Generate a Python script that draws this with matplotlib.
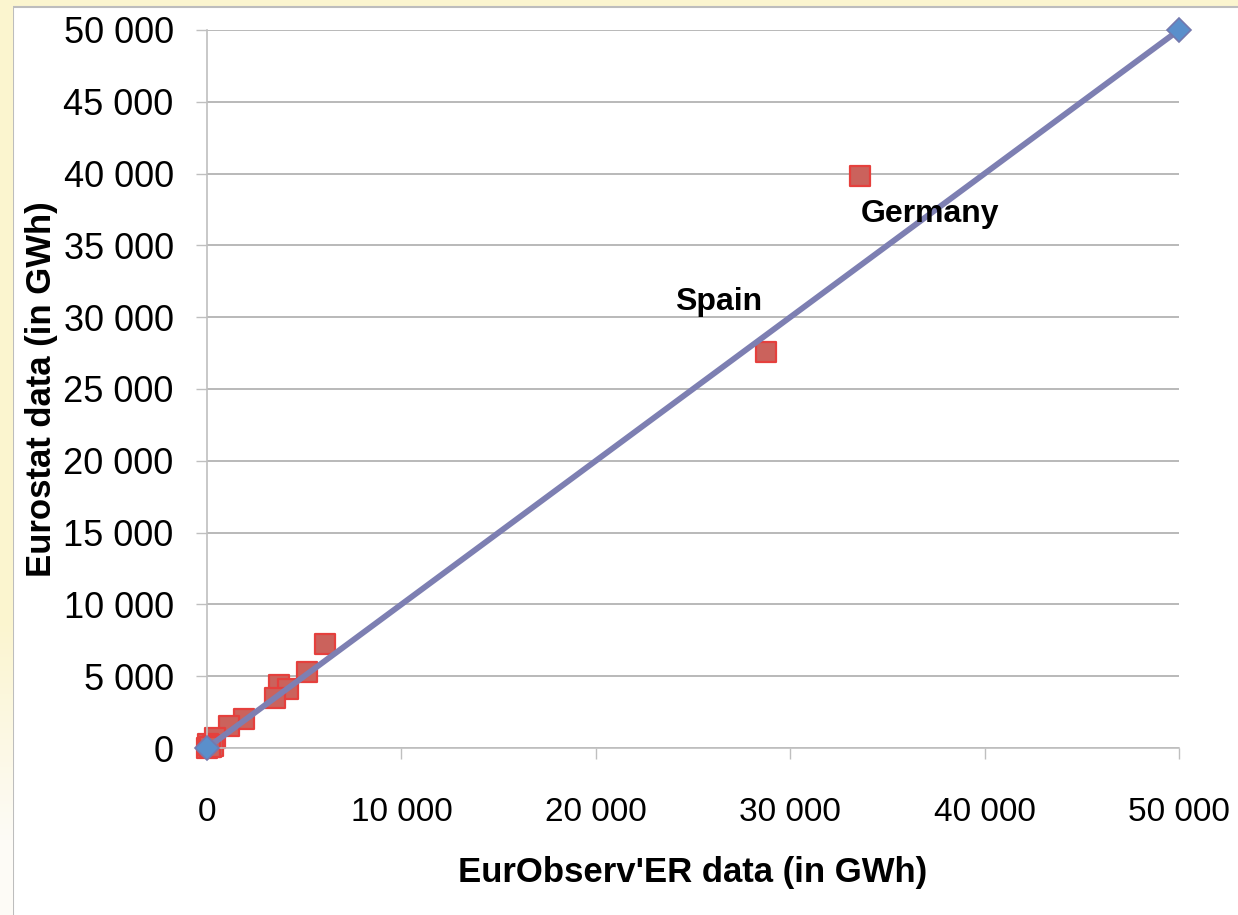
import numpy as np
import matplotlib
matplotlib.use("Agg")
import matplotlib.pyplot as plt
from matplotlib.patches import Rectangle
from matplotlib.ticker import FuncFormatter

# EurObserv'ER vs Eurostat (GWh)
eurobserver = [33600, 28750, 6070, 5150, 3720, 4180, 3500, 1920, 1150, 410,
               0, 100, 200, 50, 300, 150]
eurostat    = [39800, 27600, 7240, 5290, 4390, 4090, 3460, 2000, 1530, 700,
               0, 200, 80, 250, 150, 50]
labels      = {0: "Germany", 1: "Spain"}
ref_x = [0, 50000]
ref_y = [0, 50000]
ticks = [0, 10000, 20000, 30000, 40000, 50000]
yticks = list(range(0, 50001, 5000))

W, H = 1238, 915
plt.rcParams["font.family"] = ["Liberation Sans", "DejaVu Sans"]
fig = plt.figure(figsize=(W / 100, H / 100), dpi=100)
fig.patch.set_facecolor("#fbf5cf")

# left strip gradient (yellow fading out lower down)
grad = np.ones((H, 1, 3))
yellow = np.array([251, 245, 207]) / 255
pale = np.array([253, 251, 246]) / 255
for r in range(H):
    t = 0 if r < 620 else min(1, (r - 620) / 220)
    grad[r, 0] = yellow * (1 - t) + pale * t
gax = fig.add_axes([0, 0, 13 / W, 1])
gax.imshow(grad, aspect="auto", extent=[0, 1, 0, 1])
gax.axis("off")

fig.patches.append(Rectangle((12.5 / W, -0.01), 1.0, 1 - 6.5 / H + 0.01,
                             transform=fig.transFigure, facecolor="white",
                             edgecolor="#bdbdbd", linewidth=1.5, zorder=-5))

ax = fig.add_axes([207 / W, 1 - 748 / H, (1179 - 207) / W, (748 - 30) / H])
ax.set_facecolor("none")
ax.set_xlim(0, 50000)
ax.set_ylim(0, 50000)

ax.plot(ref_x, ref_y, color="#7d7fb2", lw=4.2, zorder=3,
        marker="D", markersize=12, markerfacecolor="#5a8fcb",
        markeredgecolor="#7478ad", markeredgewidth=1.2, clip_on=False)
ax.scatter(eurobserver, eurostat, marker="s", s=210, facecolor="#cb625c",
           edgecolor="#e5403d", linewidth=1.6, zorder=2, clip_on=False)

offsets = {0: (50, -27), 1: (-34, 36)}
for i, name in labels.items():
    ax.annotate(name, (eurobserver[i], eurostat[i]), xytext=offsets[i],
                textcoords="offset points", ha="center", va="center",
                fontsize=23, fontweight="bold")

fmt = FuncFormatter(lambda v, p: f"{int(v):,}".replace(",", " "))
ax.xaxis.set_major_formatter(fmt)
ax.yaxis.set_major_formatter(fmt)
ax.set_xticks(ticks)
ax.set_yticks(yticks)
ax.tick_params(axis="y", direction="out", length=8, width=1, color="#bfbfbf",
               pad=16, labelsize=26)
ax.tick_params(axis="x", direction="out", length=8, width=1, color="#bfbfbf",
               pad=27, labelsize=24)
ax.yaxis.grid(True, color="#a6a6a6", lw=1.1)
ax.set_axisbelow(True)
for s in ["top", "right"]:
    ax.spines[s].set_visible(False)
for s in ["left", "bottom"]:
    ax.spines[s].set_color("#bfbfbf")
    ax.spines[s].set_linewidth(1.2)

ax.set_xlabel("EurObserv'ER data (in GWh)", fontsize=25, fontweight="bold",
              va="center")
ax.set_ylabel("Eurostat data (in GWh)", fontsize=25, fontweight="bold",
              va="center")
ax.xaxis.set_label_coords(0.5, -0.174)
ax.yaxis.set_label_coords(-0.17, 0.5)

fig.savefig("out.png", dpi=100, facecolor=fig.get_facecolor())
